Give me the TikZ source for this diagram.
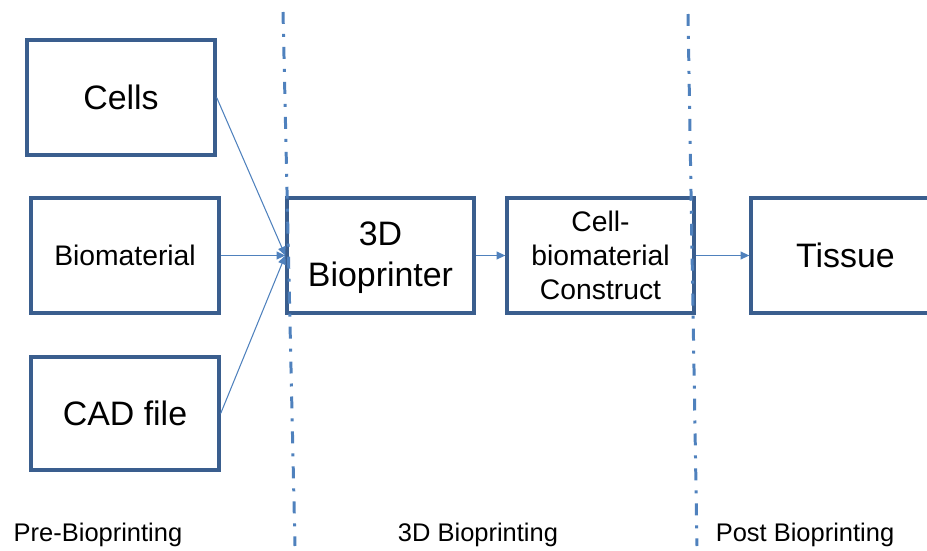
\documentclass[tikz,border=0pt]{standalone}
\usepackage{fontspec}
\setmainfont{Liberation Sans}
\usetikzlibrary{arrows.meta}
\definecolor{boxblue}{HTML}{3A5E8E}
\definecolor{lineblue}{HTML}{4F81BD}
\tikzset{
  blk/.style={draw=boxblue, line width=1.9pt, rectangle, inner sep=0pt, align=center, text=black},
  bigtxt/.style={font=\fontsize{19.3}{23.5}\selectfont},
  midtxt/.style={font=\fontsize{16.1}{19.3}\selectfont},
  lbl/.style={font=\fontsize{14.5}{17}\selectfont, text=black},
  conn/.style={draw=lineblue, line width=0.6pt, -{Triangle[length=5pt,width=4.5pt]}},
  phase/.style={draw=lineblue, line width=1.7pt, dash pattern=on 6.8pt off 5.7pt on 1.7pt off 5.7pt}
}
\begin{document}
\begin{tikzpicture}[x=0.02cm,y=-0.02cm]
\useasboundingbox (0,0) rectangle (927,551);
\clip (0,0) rectangle (927,551);
\node[blk,bigtxt,minimum width=188*0.02cm,minimum height=115*0.02cm] (cells) at (121,97.5) {Cells};
\node[blk,midtxt,minimum width=188*0.02cm,minimum height=115*0.02cm] (bio) at (125,255.5) {Biomaterial};
\node[blk,bigtxt,minimum width=188*0.02cm,minimum height=113*0.02cm] (cad) at (125,413.5) {CAD file};
\node[blk,bigtxt,minimum width=187*0.02cm,minimum height=115*0.02cm] (printer) at (380.5,255.5) {};
\node[bigtxt,align=center,inner sep=0pt] (printertxt) at (380.5,258) {3D\\Bioprinter};
\node[blk,midtxt,minimum width=187*0.02cm,minimum height=115*0.02cm] (construct) at (600.5,255.5) {Cell-\\biomaterial\\Construct};
\node[blk,bigtxt,minimum width=189*0.02cm,minimum height=115*0.02cm] (tissue) at (845.5,255.5) {Tissue};
\draw[conn] (cells.east) -- (printer.west);
\draw[conn] (bio.east) -- (printer.west);
\draw[conn] (cad.east) -- (printer.west);
\draw[conn] (printer.east) -- (construct.west);
\draw[conn] (construct.east) -- (tissue.west);
\coordinate (d1top) at (283,12);
\coordinate (d1bot) at (295,546);
\coordinate (d2top) at (688,14);
\coordinate (d2bot) at (697,546);
\draw[phase] (d1top) -- (d1bot);
\draw[phase] (d2top) -- (d2bot);
\node[lbl] (pre) at (98,535) {Pre-Bioprinting};
\node[lbl] (during) at (478,535) {3D Bioprinting};
\node[lbl] (post) at (805,535) {Post Bioprinting};
\end{tikzpicture}
\end{document}
